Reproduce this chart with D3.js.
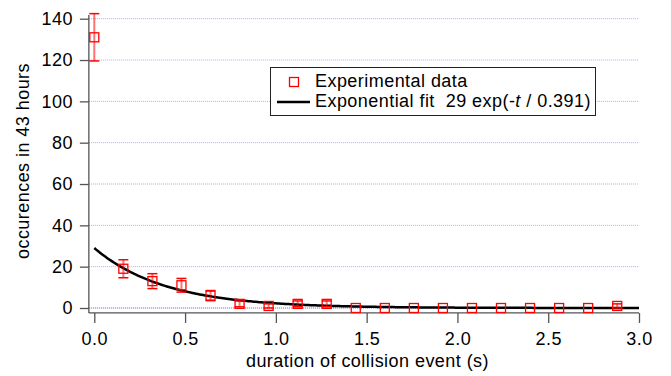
<!DOCTYPE html>
<html><head><meta charset="utf-8">
<script src="https://cdn.jsdelivr.net/npm/d3@7"></script>
<style>
body{margin:0;background:#fff;}
text{font-family:"Liberation Sans",Arial,sans-serif;white-space:pre;}
</style></head>
<body><svg id="c" width="671" height="376"></svg>
<script>
const durations = [0,0.16,0.32,0.48,0.64,0.80,0.96,1.12,1.28,1.44,1.60,1.76,1.92,2.08,2.24,2.40,2.56,2.72,2.88];
const counts    = [131,19,13,11,6,2,1,2,2,0,0,0,0,0,0,0,0,0,1];
const xTicks = [0,0.5,1.0,1.5,2.0,2.5,3.0];
const yTicks = [0,20,40,60,80,100,120,140];
const fitAmp = 29, fitTau = 0.391;
const xDomainAxis = [-0.03, 3.0];
const yDomainAxis = [-2.4, 141.8];

const FS = "18px", LS = "0.45px";
const svg = d3.select("#c");
const x = d3.scaleLinear().domain([0,3]).range([94.3,639]);
const y = d3.scaleLinear().domain([0,140]).range([308,18.7]);

// grid
svg.append("g").selectAll("line").data(yTicks).join("line")
  .attr("x1", x(xDomainAxis[0])).attr("x2", x(3))
  .attr("y1", d=>y(d)).attr("y2", d=>y(d))
  .attr("stroke", d=> d===0 ? "#5a5aff" : "#a8a8ff")
  .attr("stroke-width",1).attr("stroke-dasharray","1,1");

// axes
const yAxisX = x(xDomainAxis[0]), xAxisY = y(yDomainAxis[0]);
const gx = svg.append("g").attr("transform",`translate(0,${xAxisY})`)
  .call(d3.axisBottom(x).tickValues(xTicks).tickFormat(d3.format(".1f")).tickSize(10).tickPadding(9));
gx.select(".domain").remove();
const gy = svg.append("g").attr("transform",`translate(${yAxisX},0)`)
  .call(d3.axisLeft(y).tickValues(yTicks).tickFormat(d3.format("d")).tickSize(9).tickPadding(7));
gy.select(".domain").remove();
[gx,gy].forEach(g=>{
  g.selectAll(".tick line").attr("stroke","#555").attr("stroke-width",1.3);
  g.selectAll(".tick text").attr("fill","#000").style("font-size",FS).style("letter-spacing",LS)
   .style("font-family","'Liberation Sans',Arial,sans-serif");
});
svg.append("line").attr("x1",yAxisX).attr("x2",yAxisX).attr("y1",y(yDomainAxis[1])).attr("y2",xAxisY)
  .attr("stroke","#555").attr("stroke-width",1.3);
svg.append("line").attr("x1",yAxisX).attr("x2",x(xDomainAxis[1])).attr("y1",xAxisY).attr("y2",xAxisY)
  .attr("stroke","#555").attr("stroke-width",1.3);

// titles
svg.append("text").attr("x",367.5).attr("y",367).attr("text-anchor","middle")
  .style("font-size",FS).style("letter-spacing",LS).text("duration of collision event (s)");
svg.append("text").attr("transform","translate(28.5,161) rotate(-90)").attr("text-anchor","middle")
  .style("font-size",FS).style("letter-spacing",LS).text("occurences in 43 hours");

// fit curve
const fitPts = d3.range(0,3.0001,0.01).map(t=>[t, fitAmp*Math.exp(-t/fitTau)]);
svg.append("path").datum(fitPts)
  .attr("d", d3.line().x(d=>x(d[0])).y(d=>y(d[1])))
  .attr("fill","none").attr("stroke","#000").attr("stroke-width",2.5);

// error bars (sqrt(N))
const pts = durations.map((t,i)=>({t, n:counts[i], e:Math.sqrt(counts[i])}));
const eb = svg.append("g").selectAll("g").data(pts.filter(d=>d.e>0)).join("g");
eb.append("line").attr("x1",d=>x(d.t)).attr("x2",d=>x(d.t))
  .attr("y1",d=>y(d.n-d.e)).attr("y2",d=>y(d.n+d.e))
  .attr("stroke","rgba(255,0,0,0.55)").attr("stroke-width",2);
eb.selectAll("line.cap").data(d=>[[d.t,d.n-d.e],[d.t,d.n+d.e]]).join("line").attr("class","cap")
  .attr("x1",d=>x(d[0])-5).attr("x2",d=>x(d[0])+5)
  .attr("y1",d=>y(d[1])).attr("y2",d=>y(d[1]))
  .attr("stroke","#f00").attr("stroke-width",1.5);

// markers
svg.append("g").selectAll("rect").data(pts).join("rect")
  .attr("x",d=>x(d.t)-4.5).attr("y",d=>y(d.n)-4.5).attr("width",9).attr("height",9)
  .attr("fill","none").attr("stroke","#f00").attr("stroke-width",1.3);

// legend
const lg = svg.append("g");
lg.append("rect").attr("x",270.5).attr("y",67.5).attr("width",325).attr("height",48)
  .attr("fill","#fff").attr("stroke","#222").attr("stroke-width",1);
lg.append("rect").attr("x",289.5).attr("y",77.5).attr("width",9).attr("height",9)
  .attr("fill","none").attr("stroke","#f00").attr("stroke-width",1.3);
lg.append("text").attr("x",315).attr("y",87).style("font-size",FS).style("letter-spacing",LS).text("Experimental data");
lg.append("line").attr("x1",277).attr("x2",310).attr("y1",102).attr("y2",102)
  .attr("stroke","#000").attr("stroke-width",2.5);
const t2 = lg.append("text").attr("x",315).attr("y",106.5).style("font-size",FS).style("letter-spacing",LS);
t2.append("tspan").text("Exponential fit  29 exp(-");
t2.append("tspan").style("font-style","italic").text("t");
t2.append("tspan").text(" / 0.391)");
</script></body></html>
